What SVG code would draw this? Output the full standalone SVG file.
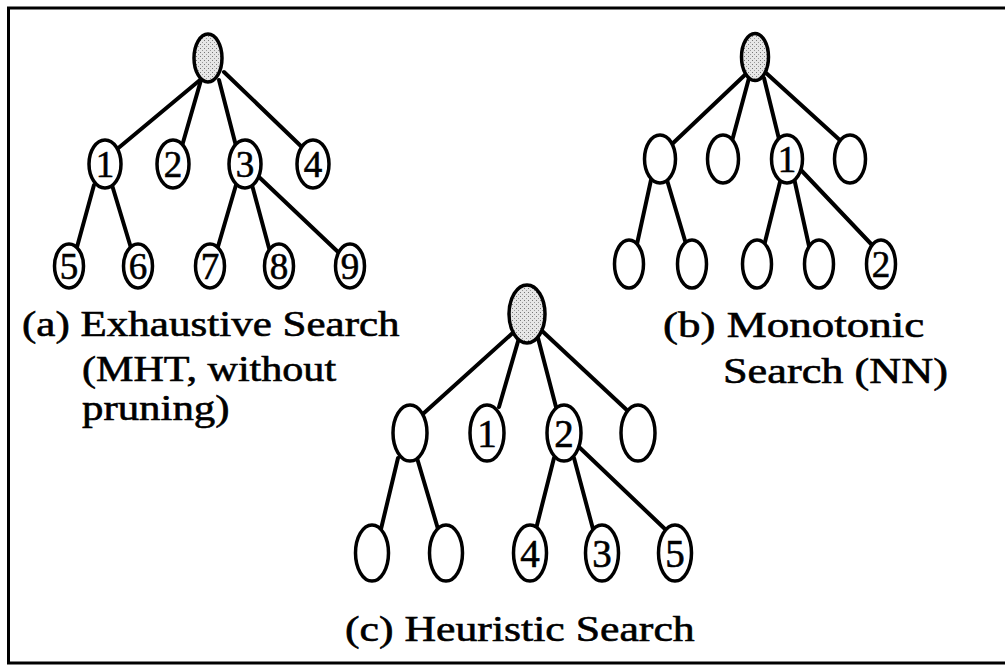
<svg xmlns="http://www.w3.org/2000/svg" width="1005" height="666" viewBox="0 0 1005 666">
<defs>
<pattern id="stipple" width="4" height="4" patternUnits="userSpaceOnUse">
<rect width="4" height="4" fill="#e6e6e6"/>
<rect x="0" y="0" width="1" height="1" fill="#777"/>
<rect x="2" y="2" width="1" height="1" fill="#999"/>
</pattern>
</defs>
<style>
.edge{stroke:#000;stroke-width:4;stroke-linecap:round;fill:none}
.node ellipse{fill:#fff;stroke:#000;stroke-width:3.5}
.root ellipse{fill:url(#stipple)}
.num{font-family:"Liberation Serif","Times New Roman",serif;font-size:37px;fill:#000;stroke:#000;stroke-width:0.6;text-anchor:middle}
.numc{font-size:39px}
.cap{font-family:"Liberation Serif","Times New Roman",serif;font-size:36px;fill:#000;stroke:#000;stroke-width:0.6}
</style>
<rect width="1005" height="666" fill="#fff"/>
<path d="M1005 8 H8.5 V663 H1005" fill="none" stroke="#000" stroke-width="3"/>
<g id="connectors">
<line class="edge" x1="200" y1="80" x2="116" y2="150"/>
<line class="edge" x1="201" y1="80" x2="182" y2="146"/>
<line class="edge" x1="219" y1="80" x2="236" y2="146"/>
<line class="edge" x1="224" y1="72" x2="305" y2="150"/>
<line class="edge" x1="94" y1="185" x2="77" y2="247"/>
<line class="edge" x1="112" y1="185" x2="131" y2="248"/>
<line class="edge" x1="236" y1="185" x2="217" y2="250"/>
<line class="edge" x1="252" y1="185" x2="269" y2="248"/>
<line class="edge" x1="259" y1="177" x2="337" y2="251"/>
<line class="edge" x1="748" y1="72" x2="670" y2="146"/>
<line class="edge" x1="749" y1="78" x2="732" y2="141"/>
<line class="edge" x1="764" y1="78" x2="779" y2="139"/>
<line class="edge" x1="765" y1="72" x2="843" y2="143"/>
<line class="edge" x1="651" y1="180" x2="637" y2="244"/>
<line class="edge" x1="667" y1="180" x2="686" y2="244"/>
<line class="edge" x1="781" y1="178" x2="764" y2="246"/>
<line class="edge" x1="794" y1="178" x2="809" y2="246"/>
<line class="edge" x1="800" y1="169" x2="873" y2="246"/>
<line class="edge" x1="516" y1="330" x2="424" y2="413"/>
<line class="edge" x1="519" y1="338" x2="499" y2="407"/>
<line class="edge" x1="538" y1="338" x2="556" y2="407"/>
<line class="edge" x1="540" y1="329" x2="630" y2="413"/>
<line class="edge" x1="398" y1="458" x2="381" y2="529"/>
<line class="edge" x1="417" y1="458" x2="438" y2="529"/>
<line class="edge" x1="554" y1="458" x2="536" y2="529"/>
<line class="edge" x1="574" y1="458" x2="593" y2="529"/>
<line class="edge" x1="579" y1="447" x2="666" y2="530"/>
</g>
<!-- Tree (a) -->
<g id="a-root" class="node root"><ellipse cx="208" cy="58" rx="14" ry="24"/></g>
<g id="a-n1" class="node"><ellipse cx="105" cy="164" rx="16" ry="24"/><text class="num" x="105" y="177">1</text></g>
<g id="a-n2" class="node"><ellipse cx="173" cy="164" rx="16" ry="24"/><text class="num" x="173" y="177">2</text></g>
<g id="a-n3" class="node"><ellipse cx="245" cy="164" rx="16" ry="24"/><text class="num" x="245" y="177">3</text></g>
<g id="a-n4" class="node"><ellipse cx="313" cy="164" rx="16" ry="24"/><text class="num" x="313" y="177">4</text></g>
<g id="a-n5" class="node"><ellipse cx="69" cy="266" rx="14.5" ry="22"/><text class="num" x="69" y="279">5</text></g>
<g id="a-n6" class="node"><ellipse cx="138" cy="266" rx="14.5" ry="22"/><text class="num" x="138" y="279">6</text></g>
<g id="a-n7" class="node"><ellipse cx="210" cy="266" rx="14.5" ry="22"/><text class="num" x="210" y="279">7</text></g>
<g id="a-n8" class="node"><ellipse cx="279" cy="266" rx="14.5" ry="22"/><text class="num" x="279" y="279">8</text></g>
<g id="a-n9" class="node"><ellipse cx="350" cy="266" rx="14.5" ry="22"/><text class="num" x="350" y="279">9</text></g>
<g id="a-caption">
<text class="cap" transform="translate(22,336) scale(1.196,1)">(a) Exhaustive Search</text>
<text class="cap" transform="translate(82,381) scale(1.17,1)">(MHT, without</text>
<text class="cap" transform="translate(82,420) scale(1.19,1)">pruning)</text>
</g>
<!-- Tree (b) -->
<g id="b-root" class="node root"><ellipse cx="755" cy="57" rx="13.5" ry="23.5"/></g>
<g id="b-n1" class="node"><ellipse cx="660" cy="159" rx="15.5" ry="24"/></g>
<g id="b-n2" class="node"><ellipse cx="723" cy="159" rx="15.5" ry="24"/></g>
<g id="b-n3" class="node"><ellipse cx="787" cy="159" rx="15.5" ry="24"/><text class="num" x="787" y="172">1</text></g>
<g id="b-n4" class="node"><ellipse cx="850" cy="159" rx="15.5" ry="24"/></g>
<g id="b-n5" class="node"><ellipse cx="629" cy="264" rx="14.5" ry="24"/></g>
<g id="b-n6" class="node"><ellipse cx="692" cy="264" rx="14.5" ry="24"/></g>
<g id="b-n7" class="node"><ellipse cx="757" cy="264" rx="14.5" ry="24"/></g>
<g id="b-n8" class="node"><ellipse cx="819" cy="264" rx="14.5" ry="24"/></g>
<g id="b-n9" class="node"><ellipse cx="881" cy="264" rx="14.5" ry="24"/><text class="num" x="881" y="277">2</text></g>
<g id="b-caption">
<text class="cap" transform="translate(663,337) scale(1.25,1)">(b) Monotonic</text>
<text class="cap" transform="translate(723,383) scale(1.23,1)">Search (NN)</text>
</g>
<!-- Tree (c) -->
<g id="c-root" class="node root"><ellipse cx="527" cy="314" rx="18" ry="29"/></g>
<g id="c-n1" class="node"><ellipse cx="410" cy="433" rx="17" ry="28"/></g>
<g id="c-n2" class="node"><ellipse cx="487" cy="433" rx="17" ry="28"/><text class="num numc" x="487" y="447">1</text></g>
<g id="c-n3" class="node"><ellipse cx="564" cy="433" rx="17" ry="28"/><text class="num numc" x="564" y="447">2</text></g>
<g id="c-n4" class="node"><ellipse cx="638" cy="433" rx="17" ry="28"/></g>
<g id="c-n5" class="node"><ellipse cx="372" cy="553" rx="16.5" ry="28"/></g>
<g id="c-n6" class="node"><ellipse cx="446" cy="553" rx="16.5" ry="28"/></g>
<g id="c-n7" class="node"><ellipse cx="530" cy="553" rx="16.5" ry="28"/><text class="num numc" x="530" y="567">4</text></g>
<g id="c-n8" class="node"><ellipse cx="602" cy="553" rx="16.5" ry="28"/><text class="num numc" x="602" y="567">3</text></g>
<g id="c-n9" class="node"><ellipse cx="675" cy="553" rx="16.5" ry="28"/><text class="num numc" x="675" y="567">5</text></g>
<g id="c-caption">
<text class="cap" transform="translate(345,641) scale(1.215,1)">(c) Heuristic Search</text>
</g>
</svg>
